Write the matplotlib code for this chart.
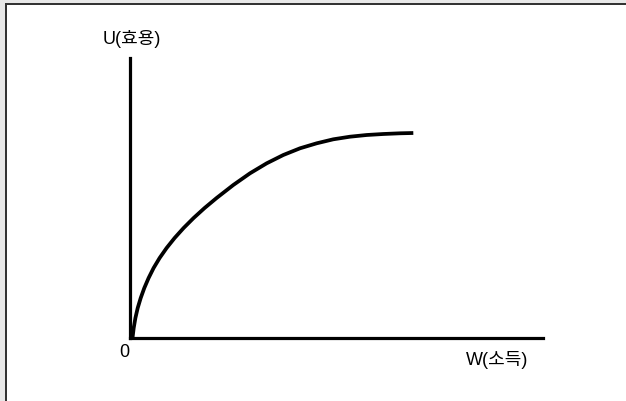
import matplotlib
matplotlib.use("Agg")
import matplotlib.pyplot as plt
from matplotlib.patches import Rectangle

plt.rcParams['font.family'] = ['Liberation Sans', 'Noto Sans CJK KR', 'DejaVu Sans']

# Utility curve (W = income, U = utility)
wealth = [2.5, 3.7, 5.4, 7.7, 10.7, 14.3, 18.6, 23.6, 29.6, 36.6, 44.6, 53.6,
          63.6, 74.6, 86.6, 103.3, 120, 136.7, 153.3, 170, 186.7, 203.3, 220,
          236.7, 253.3, 270, 283.3]
utility = [0, 10, 20, 30, 40, 50, 60, 70, 80, 90, 100, 110, 120, 130, 140,
           153, 164.7, 174.7, 183, 189.7, 194.7, 198.7, 201.3, 203, 204, 204.7, 205]

y_label = "U(효용)"
x_label = "W(소득)"
origin_label = "0"

W, H = 626, 401
fig = plt.figure(figsize=(W / 100, H / 100), dpi=100)
fig.patch.set_facecolor('white')

# axes placed in pixel terms
ax_left, ax_bottom_px, ax_w, ax_h = 130, 338, 413, 280
ax = fig.add_axes([ax_left / W, (H - ax_bottom_px) / H, ax_w / W, ax_h / H])
ax.set_xlim(0, 413)
ax.set_ylim(0, 280)
ax.plot(wealth, utility, color='black', lw=2.7, solid_capstyle='butt',
        solid_joinstyle='round', clip_on=False)
for s in ['top', 'right']:
    ax.spines[s].set_visible(False)
for s in ['left', 'bottom']:
    ax.spines[s].set_linewidth(2.3)
    ax.spines[s].set_color('black')
    ax.spines[s].set_capstyle('projecting')
ax.set_xticks([])
ax.set_yticks([])
ax.patch.set_alpha(0)

def ftext(x, y, s, **kw):
    fig.text(x / W, 1 - y / H, s, ha='center', va='center', color='black', **kw)

ftext(132, 39, y_label, fontsize=13)
ftext(497, 360, x_label, fontsize=13)
ftext(124, 352.5, origin_label, fontsize=13)

# frame band at top and left
fig.add_artist(Rectangle((0, 0), 5 / W, 1, transform=fig.transFigure,
                         facecolor='#e8e8e8', edgecolor='none'))
fig.add_artist(Rectangle((0, 1 - 3 / H), 1, 3 / H, transform=fig.transFigure,
                         facecolor='#e8e8e8', edgecolor='none'))
fig.add_artist(Rectangle((5 / W, 0), 2 / W, 1 - 3 / H, transform=fig.transFigure,
                         facecolor='#333333', edgecolor='none'))
fig.add_artist(Rectangle((5 / W, 1 - 5 / H), 1, 2 / H, transform=fig.transFigure,
                         facecolor='#333333', edgecolor='none'))

fig.savefig("out.png", dpi=100)
